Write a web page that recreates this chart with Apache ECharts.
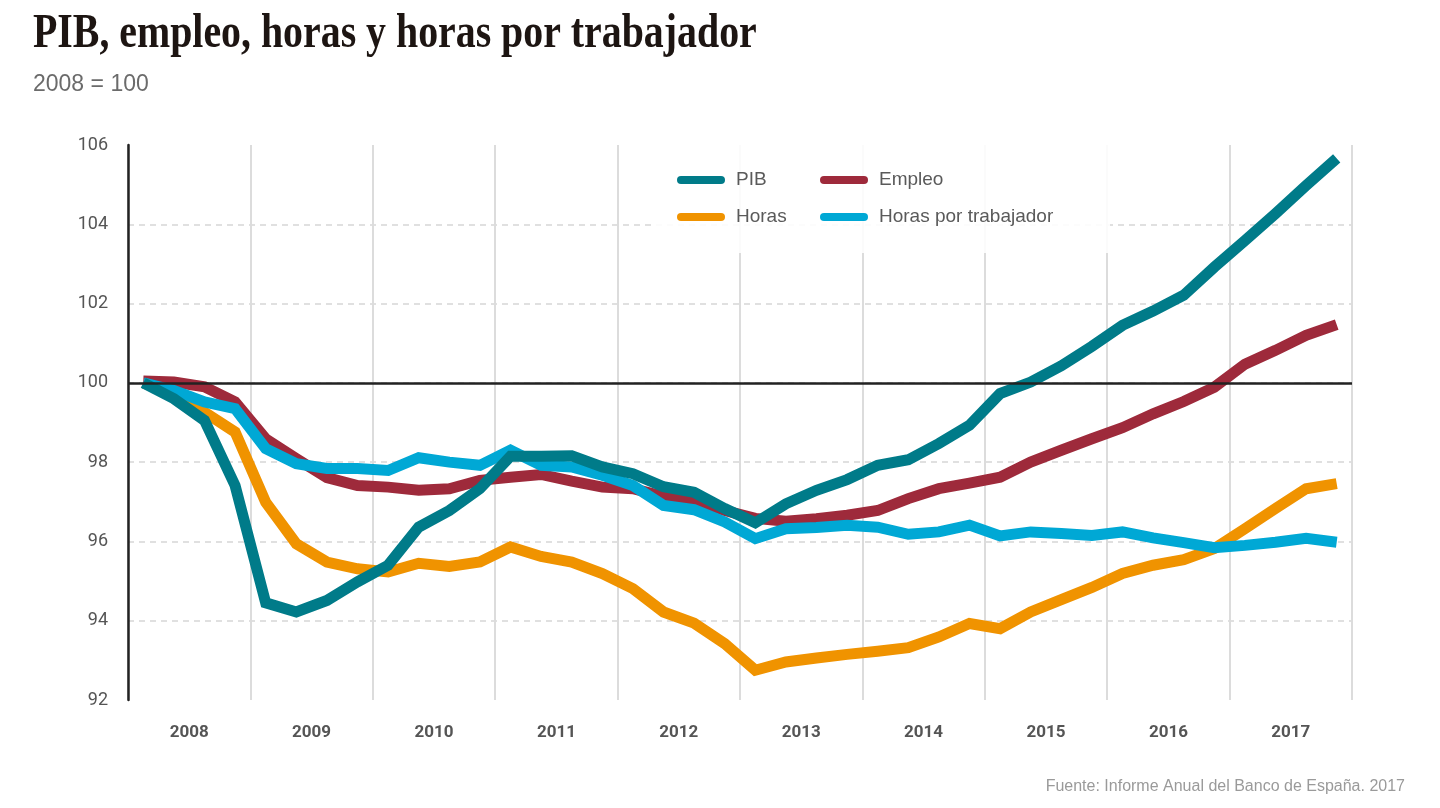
<!DOCTYPE html>
<html>
<head>
<meta charset="utf-8">
<script src="https://cdn.jsdelivr.net/npm/echarts@6/dist/echarts.min.js"></script>
<style>
html,body{margin:0;padding:0;background:#fff;}
#chart{width:1440px;height:808px;}
</style>
</head>
<body>
<div id="chart"></div>
<script>
// ---- Data ----
const years = ['2008','2009','2010','2011','2012','2013','2014','2015','2016','2017'];
const quarters = ['T1','T2','T3','T4'];
const yTicks = [92, 94, 96, 98, 100, 102, 104, 106];
const baseLine = 100;

const pib = [100.0, 99.6, 99.05, 97.41, 94.45, 94.22, 94.51, 94.98, 95.4, 96.36,
  96.78, 97.33, 98.15, 98.15, 98.16, 97.88, 97.71, 97.38, 97.24, 96.83,
  96.47, 96.95, 97.29, 97.56, 97.92, 98.06, 98.47, 98.93, 99.73, 100.02,
  100.43, 100.92, 101.45, 101.81, 102.21, 102.92, 103.59, 104.27, 104.98, 105.66];

const empleo = [100.05, 100.02, 99.9, 99.52, 98.59, 98.09, 97.61, 97.41, 97.37, 97.29,
  97.33, 97.54, 97.62, 97.69, 97.52, 97.37, 97.33, 97.14, 97.04, 96.78,
  96.58, 96.51, 96.57, 96.66, 96.78, 97.08, 97.33, 97.47, 97.62, 98.0,
  98.3, 98.59, 98.87, 99.22, 99.53, 99.89, 100.47, 100.82, 101.2, 101.47];

const horas = [100.0, 99.7, 99.26, 98.76, 96.99, 95.94, 95.48, 95.31, 95.23, 95.45,
  95.37, 95.48, 95.86, 95.62, 95.48, 95.19, 94.81, 94.22, 93.94, 93.42,
  92.75, 92.96, 93.06, 93.15, 93.23, 93.32, 93.59, 93.93, 93.8, 94.22,
  94.53, 94.84, 95.19, 95.4, 95.54, 95.82, 96.32, 96.83, 97.33, 97.46];

const horasTrab = [100.0, 99.81, 99.52, 99.35, 98.34, 97.96, 97.84, 97.84, 97.79, 98.11,
  98.0, 97.92, 98.3, 97.92, 97.88, 97.67, 97.41, 96.91, 96.8, 96.49,
  96.07, 96.32, 96.35, 96.41, 96.36, 96.18, 96.24, 96.41, 96.14, 96.24,
  96.2, 96.15, 96.24, 96.09, 95.97, 95.84, 95.9, 95.98, 96.08, 95.98];

const titleText = 'PIB, empleo, horas y horas por trabajador';
const subtitleText = '2008 = 100';
const sourceText = 'Fuente: Informe Anual del Banco de España. 2017';

// ---- Build ----
const quarterCats = years.flatMap(y => quarters.map(q => y + q));

const COLORS = {
  pib: '#007b89',
  empleo: '#9e2a3b',
  horas: '#f09300',
  horasTrab: '#00a8d5'
};

function lineSeries(name, data, color) {
  return {
    name: name,
    type: 'line',
    xAxisIndex: 0,
    yAxisIndex: 0,
    data: data,
    showSymbol: false,
    symbol: 'none',
    lineStyle: { color: color, width: 11, join: 'miter', cap: 'butt' },
    itemStyle: { color: color },
    emphasis: { disabled: true },
    animation: false
  };
}

const legendIcon = 'path://M4,0 L44,0 A4,4 0 0 1 44,8 L4,8 A4,4 0 0 1 4,0 Z';
function legendCfg(left, names) {
  return {
    orient: 'vertical',
    left: left,
    top: 170,
    padding: 0,
    itemGap: 17,
    itemWidth: 48,
    itemHeight: 8,
    icon: legendIcon,
    selectedMode: false,
    data: names,
    itemStyle: { borderWidth: 0 },
    lineStyle: { width: 0 },
    textStyle: {
      fontFamily: 'Liberation Sans, Arial, sans-serif',
      fontSize: 19,
      color: '#5a5a5a',
      lineHeight: 20,
      padding: [0, 0, 0, 6]
    }
  };
}

const chart = echarts.init(document.getElementById('chart'), null, { renderer: 'canvas' });

const option = {
  backgroundColor: '#ffffff',
  animation: false,
  grid: { left: 128, right: 88, top: 145, bottom: 108, containLabel: false },
  graphic: [
    {
      type: 'text',
      x: 33,
      y: 35,
      scaleX: 0.83,
      z: 10,
      style: {
        text: titleText,
        font: 'bold 48px "Liberation Serif", "Times New Roman", serif',
        fill: '#1d1512',
        textVerticalAlign: 'middle'
      }
    },
    {
      type: 'text',
      x: 33,
      y: 85,
      z: 10,
      style: {
        text: subtitleText,
        font: '23px "Liberation Sans", Arial, sans-serif',
        fill: '#6b6b6b',
        textVerticalAlign: 'middle'
      }
    },
    {
      type: 'text',
      right: 35,
      top: 779,
      z: 10,
      style: {
        text: sourceText,
        font: '16px "Liberation Sans", Arial, sans-serif',
        fill: '#9a9a9a'
      }
    },
    {
      type: 'rect',
      z: 1,
      shape: { x: 655, y: 141, width: 455, height: 112 },
      style: { fill: 'rgba(255,255,255,0.88)' },
      silent: true
    }
  ],
  legend: [
    legendCfg(677, ['PIB', 'Horas']),
    legendCfg(820, ['Empleo', 'Horas por trabajador'])
  ],
  xAxis: [
    {
      type: 'category',
      data: quarterCats,
      boundaryGap: true,
      axisLine: { show: false },
      axisTick: { show: false },
      axisLabel: { show: false },
      splitLine: { show: false }
    },
    {
      type: 'category',
      data: years,
      position: 'bottom',
      offset: 0,
      boundaryGap: true,
      axisLine: { show: false },
      axisTick: { show: false },
      axisLabel: {
        interval: 0,
        margin: 24,
        fontFamily: 'Roboto, sans-serif',
        fontWeight: 'bold',
        fontSize: 17,
        color: '#555555'
      },
      splitLine: {
        show: true,
        interval: 0,
        lineStyle: { color: '#dcdcdc', width: 2, type: 'solid' }
      }
    }
  ],
  yAxis: {
    type: 'value',
    min: yTicks[0],
    max: yTicks[yTicks.length - 1],
    interval: 2,
    axisLine: { show: true, lineStyle: { color: '#222222', width: 2.5 } },
    axisTick: { show: false },
    axisLabel: {
      margin: 20,
      fontFamily: 'Roboto, sans-serif',
      fontSize: 18,
      color: '#555555',
      customValues: yTicks
    },
    splitLine: {
      show: true,
      showMinLine: false,
      showMaxLine: false,
      lineStyle: { color: '#d6d6d6', width: 1.5, type: [6, 5] }
    }
  },
  series: [
    {
      name: 'base',
      type: 'line',
      data: [],
      silent: true,
      markLine: {
        silent: true,
        symbol: 'none',
        label: { show: false },
        lineStyle: { color: '#222222', width: 2.5, type: 'solid' },
        emphasis: { disabled: true },
        data: [{ yAxis: baseLine }],
        animation: false
      }
    },
    lineSeries('Horas', horas, COLORS.horas),
    lineSeries('Empleo', empleo, COLORS.empleo),
    lineSeries('Horas por trabajador', horasTrab, COLORS.horasTrab),
    lineSeries('PIB', pib, COLORS.pib)
  ]
};

chart.setOption(option);
</script>
</body>
</html>
